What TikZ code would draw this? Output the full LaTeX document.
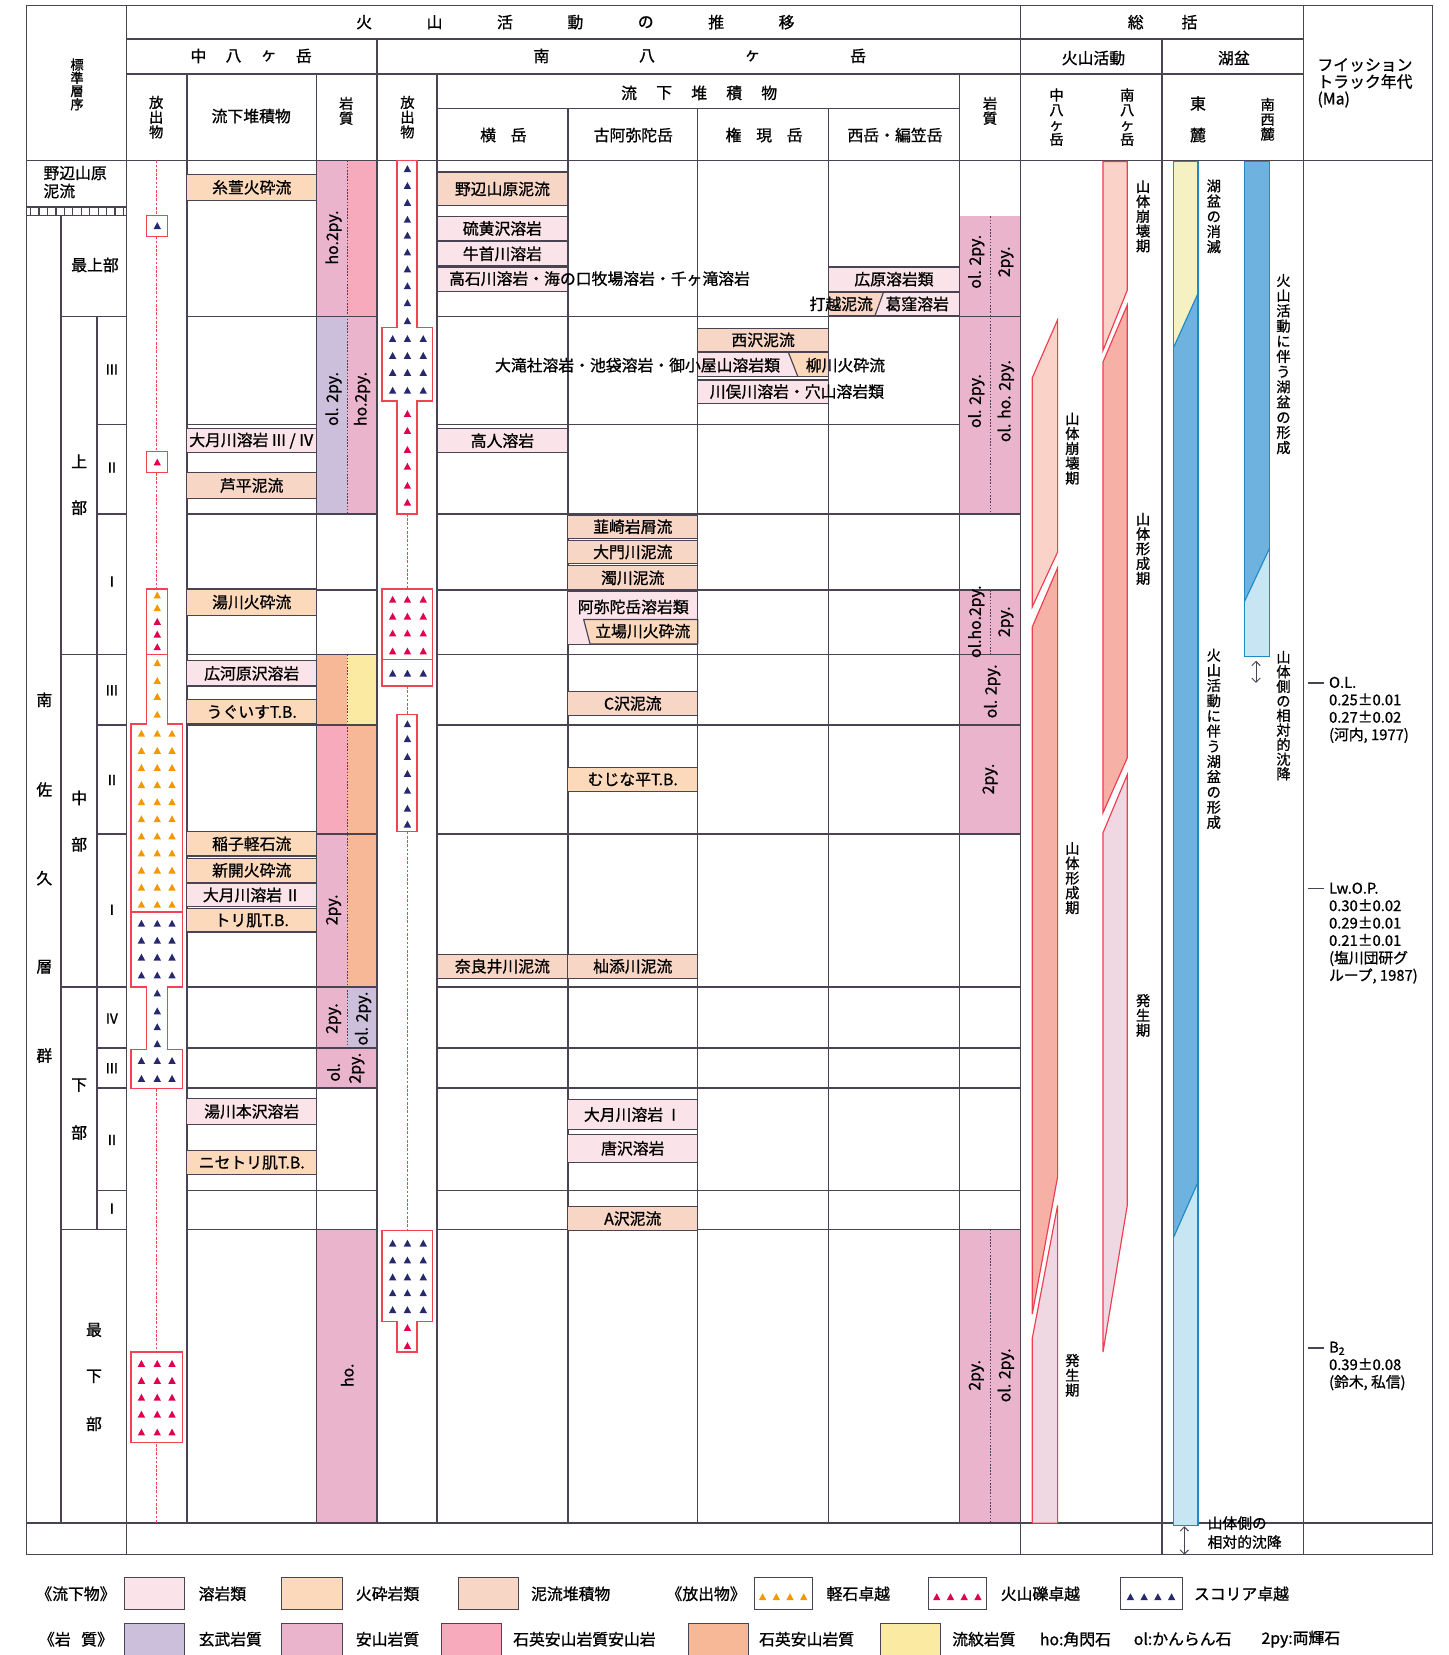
\documentclass[tikz,border=0pt]{standalone}
\usepackage{fontspec}
\setmainfont{Noto Sans CJK JP}[FakeBold=1]
\usetikzlibrary{arrows.meta}

\definecolor{gridC}{HTML}{4A4452}
\definecolor{lavaC}{HTML}{FBE3EA}
\definecolor{pyroC}{HTML}{FBD9BA}
\definecolor{mudC}{HTML}{F8D6C6}
\definecolor{basC}{HTML}{CBBFDB}
\definecolor{andC}{HTML}{EAB4CD}
\definecolor{qandC}{HTML}{F6AABB}
\definecolor{dacC}{HTML}{F6B896}
\definecolor{rhyC}{HTML}{FAEAA2}
\definecolor{pumC}{HTML}{F39800}
\definecolor{lapC}{HTML}{E0004C}
\definecolor{scoC}{HTML}{28286E}
\definecolor{ejC}{HTML}{EF4454}
\definecolor{bandR}{HTML}{EE3E50}
\definecolor{bandA}{HTML}{FAD2C8}
\definecolor{bandB}{HTML}{F7B0A6}
\definecolor{bandC}{HTML}{EFD8E2}
\definecolor{lakeO}{HTML}{1F8AC6}
\definecolor{lakeY}{HTML}{F6F1C3}
\definecolor{lakeB}{HTML}{6EB3DF}
\definecolor{lakeL}{HTML}{C8E5F3}

\newcommand{\fs}{\fontsize{15}{17}\selectfont}
\newcommand{\vs}{\fontsize{13.5}{14}\selectfont}
% small ejecta triangle: colour, x, y
\newcommand{\tri}[3]{\fill[fill=#1] (#2-3.5,#3+3) -- (#2+3.5,#3+3) -- (#2,#3-3.5) -- cycle;}
% deposit box: name, x1, x2, y1, y2, fill, text
\newcommand{\dep}[7]{%
  \filldraw[depbox,fill=#6] (#2,#4) rectangle (#3,#5);
  \node[lbl] (#1) at ({(#2+#3)/2},{(#4+#5)/2}) {#7};}

\begin{document}
\begin{tikzpicture}[x=1pt,y=-1pt,
    lbl/.style={font=\fs,inner sep=0pt},
    vlbl/.style={font=\vs,inner sep=0pt,align=center},
    rocklbl/.style={font=\fs,inner sep=0pt,rotate=90},
    rule/.style={draw=gridC,line width=1.4pt},
    depbox/.style={draw=gridC,line width=1.1pt},
    ejbox/.style={draw=ejC,line width=1.2pt,fill=white},
    ejtrail/.style={draw=ejC,line width=1.1pt,dash pattern=on 2.5pt off 1.5pt},
    rockdiv/.style={draw=gridC,line width=0.8pt,dash pattern=on 1.5pt off 1.5pt},
    band/.style={draw=bandR,line width=1.1pt},
    lake/.style={draw=lakeO,line width=1.1pt},
    swatch/.style={draw=gridC,line width=0.9pt,minimum width=57pt,minimum height=30pt,inner sep=0pt},
    twoway/.style={{Straight Barb[length=4pt]}-{Straight Barb[length=4pt]},line width=0.9pt,draw=gridC}
  ]
\useasboundingbox (0,0) rectangle (1372,1568);

% rock type fills
\fill[andC] (300,152) rectangle (329,300);
\fill[qandC] (329,152) rectangle (357,300);
\fill[basC] (300,300) rectangle (329,487);
\fill[andC] (329,300) rectangle (357,487);
\fill[dacC] (300,620) rectangle (329,687);
\fill[rhyC] (329,620) rectangle (357,687);
\fill[qandC] (300,687) rectangle (329,790);
\fill[dacC] (329,687) rectangle (357,790);
\fill[andC] (300,790) rectangle (329,935);
\fill[dacC] (329,790) rectangle (357,935);
\fill[andC] (300,935) rectangle (329,993);
\fill[basC] (329,935) rectangle (357,993);
\fill[andC] (300,993) rectangle (357,1031);
\fill[andC] (300,1165) rectangle (357,1443);
\fill[andC] (909,205) rectangle (967,487);
\fill[andC] (909,559) rectangle (967,790);
\fill[andC] (909,1165) rectangle (967,1443);

% frame and columns
\draw[rule] (25,5) rectangle (1357,1473);
\foreach \x in {120,967,1235} \draw[rule] (\x,5) -- (\x,1473);
\draw[rule] (120,37) -- (1235,37);
\draw[rule] (120,70) -- (1235,70);
\draw[rule] (1101,37) -- (1101,1473);
\draw[rule] (357,37) -- (357,1443);
\draw[rule] (414,103) -- (909,103);
\draw[rule] (25,152) -- (1357,152);
\draw[rule] (25,1443) -- (1357,1443);
\foreach \x in {177,300,414,909} \draw[rule] (\x,70) -- (\x,1443);
\foreach \x in {538,661,785} \draw[rule] (\x,103) -- (\x,1443);

% stratigraphic rows
\foreach \y in {300,487,559,620,687,790,935,993,1031,1128,1165} {
  \draw[rule] (177,\y) -- (357,\y);
  \draw[rule] (414,\y) -- (967,\y);
}
\draw[rule] (177,402) -- (300,402);
\draw[rule] (414,402) -- (909,402);

% standard sequence column
\draw[rule] (25,196) -- (120,196);
\draw[rule] (25,204) -- (120,204);
\foreach \x in {29,37,...,117} \draw[gridC,line width=1.2pt] (\x,196) -- (\x,204);
\draw[rule] (58,204) -- (58,1443);
\draw[rule] (92,300) -- (92,1165);
\foreach \y in {300,620,935,1165} \draw[rule] (58,\y) -- (120,\y);
\foreach \y in {402,487,687,790,993,1031,1128} \draw[rule] (92,\y) -- (120,\y);

% Naka-Yatsugatake ejecta
\draw[ejtrail] (148,152) -- (148,1443);
\filldraw[ejbox] (139,204) rectangle (159,224);
\tri{scoC}{149}{214}
\filldraw[ejbox] (139,428) rectangle (159,448);
\tri{lapC}{149}{438}
\filldraw[ejbox] (139,558) -- (159,558) -- (159,686) -- (173,686) -- (173,935) -- (159,935)
  -- (159,994) -- (173,994) -- (173,1031) -- (124,1031) -- (124,994) -- (139,994)
  -- (139,935) -- (124,935) -- (124,686) -- (139,686) -- cycle;
\draw[ejC,line width=1.2pt] (139,620) -- (159,620);
\draw[ejC,line width=1.2pt] (124,864) -- (173,864);
\foreach \y/\col in {564/pumC,576/pumC,589/lapC,601/lapC,613/lapC,628/pumC,645/pumC,660/pumC,677/pumC}
  {\tri{\col}{149}{\y}}
\foreach \k in {0,...,10} \foreach \x in {134,149,163} {\tri{pumC}{\x}{695+16.2*\k}}
\foreach \y in {875,891,907,924,1005,1022} \foreach \x in {134,149,163} {\tri{scoC}{\x}{\y}}
\foreach \y in {941,958,973,989} {\tri{scoC}{149}{\y}}
\filldraw[ejbox] (124,1281) rectangle (173,1367);
\foreach \y in {1292,1308,1324,1340,1357} \foreach \x in {134,149,163} {\tri{lapC}{\x}{\y}}

% Minami-Yatsugatake ejecta
\draw[ejtrail] (386,487) -- (386,558);
\draw[ejtrail] (386,650) -- (386,677);
\draw[ejtrail] (386,788) -- (386,1166);
\filldraw[ejbox] (376,152) -- (395,152) -- (395,310) -- (410,310) -- (410,380) -- (395,380)
  -- (395,487) -- (376,487) -- (376,380) -- (362,380) -- (362,310) -- (376,310) -- cycle;
\foreach \y in {160,176,192,208,223,239,255,271,287,304} {\tri{scoC}{386}{\y}}
\foreach \y in {321,337,353,370} \foreach \x in {372,386,401} {\tri{scoC}{\x}{\y}}
\foreach \y in {392,408,426,442,460,476} {\tri{lapC}{386}{\y}}
\filldraw[ejbox] (362,558) rectangle (410,650);
\draw[ejC,line width=1.2pt] (362,625) -- (410,625);
\foreach \y in {568,584,600,617} \foreach \x in {372,386,401} {\tri{lapC}{\x}{\y}}
\foreach \x in {372,386,401} {\tri{scoC}{\x}{638}}
\filldraw[ejbox] (376,677) rectangle (395,788);
\foreach \y in {686,700,717,733,749,766,781} {\tri{scoC}{386}{\y}}
\filldraw[ejbox] (362,1166) -- (410,1166) -- (410,1252) -- (395,1252) -- (395,1281)
  -- (376,1281) -- (376,1252) -- (362,1252) -- cycle;
\foreach \y in {1178,1194,1210,1225,1241} \foreach \x in {372,386,401} {\tri{scoC}{\x}{\y}}
\foreach \y in {1258,1275} {\tri{lapC}{386}{\y}}

% rock type dividers
\draw[rockdiv] (329,152) -- (329,487);
\draw[rockdiv] (329,620) -- (329,993);
\draw[rockdiv] (938,205) -- (938,487);
\draw[rockdiv] (938,559) -- (938,620);
\draw[rockdiv] (938,1165) -- (938,1443);

% deposits, Naka-Yatsugatake
\dep{itoyoki}{177}{300}{165}{190}{pyroC}{糸萱火砕流}
\dep{ozuki34}{177}{300}{406}{429}{lavaC}{大月川溶岩\,Ⅲ\,/\,Ⅳ}
\dep{ashidaira}{177}{300}{448}{472}{mudC}{芦平泥流}
\dep{yugawaPf}{177}{300}{558}{583}{pyroC}{湯川火砕流}
\dep{hirokawara}{177}{300}{626}{650}{lavaC}{広河原沢溶岩}
\dep{uguisu}{177}{300}{663}{686}{pyroC}{うぐいすT.B.}
\dep{inago}{177}{300}{788}{811}{pyroC}{稲子軽石流}
\dep{shinkai}{177}{300}{813}{836}{pyroC}{新開火砕流}
\dep{ozuki2}{177}{300}{837}{859}{lavaC}{大月川溶岩\,Ⅱ}
\dep{torihada}{177}{300}{861}{883}{pyroC}{トリ肌T.B.}
\dep{yuhonzawa}{177}{300}{1041}{1065}{lavaC}{湯川本沢溶岩}
\dep{nisetori}{177}{300}{1090}{1113}{pyroC}{ニセトリ肌T.B.}

% deposits, Minami-Yatsugatake
\dep{nobeyama}{414}{538}{163}{195}{mudC}{野辺山原泥流}
\dep{iouzawa}{414}{538}{205}{228}{lavaC}{硫黄沢溶岩}
\dep{ushikubi}{414}{538}{229}{252}{lavaC}{牛首川溶岩}
\filldraw[depbox,fill=lavaC] (414,253) rectangle (538,276);
\node[lbl] (takaishi) at (568,264) {高石川溶岩・海の口牧場溶岩・千ヶ滝溶岩};
\dep{takando}{414}{538}{406}{429}{lavaC}{高人溶岩}
\dep{naraigawa}{414}{538}{904}{927}{mudC}{奈良井川泥流}
\dep{nirasaki}{538}{661}{488}{510}{mudC}{韮崎岩屑流}
\dep{daimon}{538}{661}{512}{534}{mudC}{大門川泥流}
\dep{nigori}{538}{661}{536}{559}{mudC}{濁川泥流}
\filldraw[depbox,fill=lavaC] (538,560) rectangle (661,611);
\node[lbl] (amida) at (600,575) {阿弥陀岳溶岩類};
\filldraw[depbox,fill=pyroC] (553,587) -- (661,587) -- (661,610) -- (559,610) -- cycle;
\node[lbl] (tatebakawa) at (609,598) {立場川火砕流};
\dep{csawa}{538}{661}{655}{678}{mudC}{C沢泥流}
\dep{mujina}{538}{661}{727}{750}{pyroC}{むじな平T.B.}
\dep{somazoe}{538}{661}{904}{927}{mudC}{杣添川泥流}
\dep{ozuki1}{538}{661}{1042}{1070}{lavaC}{大月川溶岩\,Ⅰ}
\dep{karasawa}{538}{661}{1075}{1101}{lavaC}{唐沢溶岩}
\dep{asawa}{538}{661}{1143}{1166}{mudC}{A沢泥流}
\dep{nishizawa}{661}{785}{311}{333}{mudC}{西沢泥流}
\filldraw[depbox,fill=lavaC] (661,334) rectangle (785,357);
\fill[pyroC] (747,334) -- (785,334) -- (785,357) -- (756,357) -- cycle;
\draw[depbox] (747,334) -- (756,357);
\draw[depbox] (661,334) rectangle (785,357);
\node[lbl] (otaki) at (604,346) {大滝社溶岩・池袋溶岩・御小屋山溶岩類};
\node[lbl] (yanagawa) at (801,346) {柳川火砕流};
\filldraw[depbox,fill=lavaC] (661,360) rectangle (785,382);
\node[lbl] (kawamata) at (755,371) {川俣川溶岩・穴山溶岩類};
\dep{hirohara}{785}{909}{253}{276}{lavaC}{広原溶岩類}
\filldraw[depbox,fill=lavaC] (785,277) rectangle (909,299);
\fill[mudC] (785,277) -- (837,277) -- (829,299) -- (785,299) -- cycle;
\draw[depbox] (837,277) -- (829,299);
\draw[depbox] (785,277) rectangle (909,299);
\node[lbl] (uchikoshi) at (797,288) {打越泥流};
\node[lbl] (kuzukubo) at (869,288) {葛窪溶岩};

% rock type labels
\node[rocklbl] (rkN1) at (316,225) {ho.2py.};
\node[rocklbl] (rkN2) at (316,378) {ol. 2py.};
\node[rocklbl] (rkN3) at (343,378) {ho.2py.};
\node[rocklbl] (rkN4) at (316,862) {2py.};
\node[rocklbl] (rkN5) at (316,965) {2py.};
\node[rocklbl] (rkN6) at (344,965) {ol. 2py.};
\node[rocklbl] (rkN7) at (316,1016) {ol.};
\node[rocklbl] (rkN8) at (338,1012) {2py.};
\node[rocklbl] (rkN9) at (329,1303) {ho.};
\node[rocklbl] (rkS1) at (925,248) {ol. 2py.};
\node[rocklbl] (rkS2) at (953,248) {2py.};
\node[rocklbl] (rkS3) at (925,380) {ol. 2py.};
\node[rocklbl] (rkS4) at (953,380) {ol. ho. 2py.};
\node[rocklbl] (rkS5) at (925,589) {ol.ho.2py.};
\node[rocklbl] (rkS6) at (953,589) {2py.};
\node[rocklbl] (rkS7) at (940,655) {ol. 2py.};
\node[rocklbl] (rkS8) at (938,738) {2py.};
\node[rocklbl] (rkS9) at (925,1303) {2py.};
\node[rocklbl] (rkS10) at (953,1303) {ol. 2py.};

% summary: volcanic activity bands
\filldraw[band,fill=bandA] (978,358) -- (1002,303) -- (1002,523) -- (978,575) -- cycle;
\filldraw[band,fill=bandB] (978,594) -- (1002,538) -- (1002,1115) -- (978,1245) -- cycle;
\filldraw[band,fill=bandC] (978,1268) -- (1002,1142) -- (1002,1443) -- (978,1443) -- cycle;
\filldraw[band,fill=bandA] (1045,153) -- (1068,153) -- (1068,275) -- (1045,332) -- cycle;
\filldraw[band,fill=bandB] (1045,343) -- (1068,289) -- (1068,718) -- (1045,770) -- cycle;
\filldraw[band,fill=bandC] (1045,789) -- (1068,734) -- (1068,1142) -- (1045,1281) -- cycle;
\node[vlbl] (nkCollapse) at (1016,425) {山\\体\\崩\\壊\\期};
\node[vlbl] (nkGrowth) at (1016,832) {山\\体\\形\\成\\期};
\node[vlbl] (nkBirth) at (1016,1303) {発\\生\\期};
\node[vlbl] (mkCollapse) at (1083,205) {山\\体\\崩\\壊\\期};
\node[vlbl] (mkGrowth) at (1083,520) {山\\体\\形\\成\\期};
\node[vlbl] (mkBirth) at (1083,962) {発\\生\\期};

% summary: lake basins
\fill[lakeY] (1112,153) -- (1135,153) -- (1135,278) -- (1112,329) -- cycle;
\fill[lakeB] (1112,329) -- (1135,278) -- (1135,1120) -- (1112,1172) -- cycle;
\fill[lakeL] (1112,1172) -- (1135,1120) -- (1135,1445) -- (1112,1445) -- cycle;
\draw[lake] (1112,153) rectangle (1135,1445);
\draw[lake] (1112,329) -- (1135,278);
\draw[lake] (1112,1172) -- (1135,1120);
\fill[lakeB] (1179,153) -- (1203,153) -- (1203,519) -- (1179,570) -- cycle;
\fill[lakeL] (1179,570) -- (1203,519) -- (1203,622) -- (1179,622) -- cycle;
\draw[lake] (1179,153) rectangle (1203,622);
\draw[lake] (1179,570) -- (1203,519);
\coordinate (swTop) at (1190,626);
\coordinate (swBot) at (1190,647);
\draw[twoway] (swTop) -- (swBot);
\coordinate (eTop) at (1122,1446);
\coordinate (eBot) at (1122,1473);
\draw[twoway] (eTop) -- (eBot);
\node[vlbl,font=\fontsize{13.5}{14.4}\selectfont] (eLakeEnd) at (1150,205) {湖\\盆\\の\\消\\滅};
\node[vlbl,font=\fontsize{13.5}{14.4}\selectfont] (eLakeForm) at (1150,700) {火\\山\\活\\動\\に\\伴\\う\\湖\\盆\\の\\形\\成};
\node[vlbl,font=\fontsize{13.5}{14.4}\selectfont] (swLakeForm) at (1216,345) {火\\山\\活\\動\\に\\伴\\う\\湖\\盆\\の\\形\\成};
\node[vlbl,font=\fontsize{13.5}{13.8}\selectfont] (swSink) at (1216,678) {山\\体\\側\\の\\相\\対\\的\\沈\\降};
\node[lbl,anchor=west,align=left,font=\fontsize{14}{18}\selectfont] (eSink) at (1144,1452) {山体側の\\相対的沈降};

% fission track ages
\draw[gridC,line width=1.2pt] (1239,647) -- (1254,647);
\node[lbl,anchor=north west,align=left,font=\fontsize{14}{16.5}\selectfont] (ftOL) at (1259,641)
  {O.L.\\0.25±0.01\\0.27±0.02\\(河内, 1977)};
\draw[gridC,line width=1.2pt] (1239,842) -- (1254,842);
\node[lbl,anchor=north west,align=left,font=\fontsize{14}{16.5}\selectfont] (ftLw) at (1259,836)
  {Lw.O.P.\\0.30±0.02\\0.29±0.01\\0.21±0.01\\(塩川団研グ\\ループ, 1987)};
\draw[gridC,line width=1.2pt] (1239,1277) -- (1254,1277);
\node[lbl,anchor=north west,align=left,font=\fontsize{14}{16.5}\selectfont] (ftB) at (1259,1271)
  {B\textsubscript{2}\\0.39±0.08\\(鈴木, 私信)};

% headers
\foreach \ch [count=\i from 0] in {火,山,活,動,の,推,移}
  \node[lbl] (trans\i) at (345+66.7*\i,21) {\ch};
\node[lbl] (sumA) at (1076,21) {総};
\node[lbl] (sumB) at (1127,21) {括};
\foreach \ch [count=\i from 0] in {中,八,ヶ,岳}
  \node[lbl] (nakaH\i) at (188+33.3*\i,53) {\ch};
\foreach \ch [count=\i from 0] in {南,八,ヶ,岳}
  \node[lbl] (minaH\i) at (513+100*\i,53) {\ch};
\foreach \ch [count=\i from 0] in {流,下,堆,積,物}
  \node[lbl] (flowH\i) at (596+33.2*\i,88) {\ch};
\node[lbl] (volcH) at (1036,55) {火山活動};
\node[lbl] (lakeH) at (1169,55) {湖盆};
\node[vlbl,font=\fontsize{12.5}{12.5}\selectfont] (stdH) at (73,80) {標\\準\\層\\序};
\node[vlbl] (ejNH) at (148,111) {放\\出\\物};
\node[lbl] (flowNH) at (238,110) {流下堆積物};
\node[vlbl] (rockNH) at (328,105) {岩\\質};
\node[vlbl] (ejSH) at (386,111) {放\\出\\物};
\node[lbl] (yokoH) at (477,128) {横\hspace{14pt}岳};
\node[lbl] (koamidaH) at (600,128) {古阿弥陀岳};
\node[lbl] (gongenH) at (724,128) {権\hspace{14pt}現\hspace{14pt}岳};
\node[lbl] (nishiH) at (848,128) {西岳・編笠岳};
\node[vlbl] (rockSH) at (938,105) {岩\\質};
\node[vlbl] (nakaV) at (1001,111) {中\\八\\ヶ\\岳};
\node[vlbl] (minaV) at (1068,111) {南\\八\\ヶ\\岳};
\node[lbl] (eastA) at (1135,98) {東};
\node[lbl] (eastB) at (1135,128) {麓};
\node[vlbl] (swV) at (1201,113) {南\\西\\麓};
\node[lbl,anchor=north west,align=left,font=\fontsize{15}{16}\selectfont] (ftH) at (1248,55)
  {フイッション\\トラック年代\\(Ma)};

% standard sequence labels
\node[lbl,anchor=west] (nobeStd) at (41,164) {野辺山原};
\node[lbl,anchor=west] (nobeStdB) at (41,181) {泥流};
\node[lbl] (topMost) at (90,251) {最上部};
\foreach \ch/\y [count=\i] in {南/663,佐/748,久/832,層/916,群/1000}
  \node[lbl] (grp\i) at (42,\y) {\ch};
\node[lbl] (upA) at (75,437) {上};
\node[lbl] (upB) at (75,481) {部};
\node[lbl] (midA) at (75,756) {中};
\node[lbl] (midB) at (75,800) {部};
\node[lbl] (lowA) at (75,1028) {下};
\node[lbl] (lowB) at (75,1073) {部};
\node[lbl] (botA) at (89,1260) {最};
\node[lbl] (botB) at (89,1304) {下};
\node[lbl] (botC) at (89,1349) {部};
\foreach \r/\y [count=\i] in {Ⅲ/350,Ⅱ/443,Ⅰ/551,Ⅲ/654,Ⅱ/739,Ⅰ/862,Ⅳ/965,Ⅲ/1012,Ⅱ/1080,Ⅰ/1145}
  \node[lbl,font=\fontsize{13}{14}\selectfont] (sub\i) at (106,\y) {\r};

% legend
\node[lbl] (lgFlow) at (72,1510) {《流下物》};
\node[swatch,fill=lavaC] (swLava) at (146.5,1510) {};
\node[lbl,anchor=west] (lgLava) at (188,1510) {溶岩類};
\node[swatch,fill=pyroC] (swPyro) at (295.5,1510) {};
\node[lbl,anchor=west] (lgPyro) at (337,1510) {火砕岩類};
\node[swatch,fill=mudC] (swMud) at (462.5,1510) {};
\node[lbl,anchor=west] (lgMud) at (503,1510) {泥流堆積物};
\node[lbl] (lgEject) at (669,1510) {《放出物》};
\node[swatch,fill=white,minimum width=55pt] (swPum) at (742.5,1510) {};
\foreach \dx in {-20,-7,6,19} {\tri{pumC}{742.5+\dx}{1513}}
\node[lbl,anchor=west] (lgPum) at (783,1510) {軽石卓越};
\node[swatch,fill=white,minimum width=55pt] (swLap) at (907.5,1510) {};
\foreach \dx in {-20,-7,6,19} {\tri{lapC}{907.5+\dx}{1513}}
\node[lbl,anchor=west] (lgLap) at (948,1510) {火山礫卓越};
\node[swatch,fill=white,minimum width=58pt] (swSco) at (1091,1510) {};
\foreach \dx in {-20,-7,6,19} {\tri{scoC}{1091+\dx}{1513}}
\node[lbl,anchor=west] (lgSco) at (1131,1510) {スコリア卓越};
\node[lbl] (lgRock) at (72,1553) {《岩\hspace{10pt}質》};
\node[swatch,fill=basC] (swBas) at (146.5,1553) {};
\node[lbl,anchor=west] (lgBas) at (188,1553) {玄武岩質};
\node[swatch,fill=andC] (swAnd) at (295.5,1553) {};
\node[lbl,anchor=west] (lgAnd) at (337,1553) {安山岩質};
\node[swatch,fill=qandC] (swQand) at (446.5,1553) {};
\node[lbl,anchor=west] (lgQand) at (486,1553) {石英安山岩質安山岩};
\node[swatch,fill=dacC] (swDac) at (680.5,1553) {};
\node[lbl,anchor=west] (lgDac) at (719,1553) {石英安山岩質};
\node[swatch,fill=rhyC] (swRhy) at (862.5,1553) {};
\node[lbl,anchor=west] (lgRhy) at (902,1553) {流紋岩質};
\node[lbl,anchor=west] (lgHo) at (985,1553) {ho:角閃石};
\node[lbl,anchor=west] (lgOl) at (1074,1553) {ol:かんらん石};
\node[lbl,anchor=west] (lgPy) at (1195,1553) {2py:両輝石};
\end{tikzpicture}
\end{document}
